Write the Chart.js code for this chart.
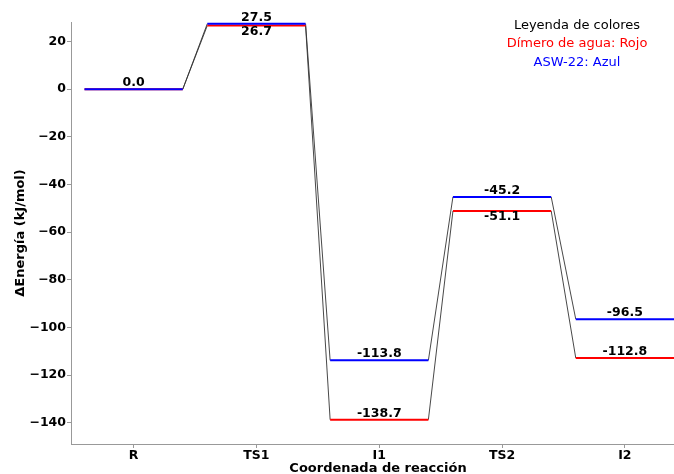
<!DOCTYPE html>
<html>
<head>
<meta charset="utf-8">
<script src="https://cdn.jsdelivr.net/npm/chart.js@4"></script>
<style>
  html, body { margin: 0; padding: 0; background: #ffffff; }
  #wrap { width: 674px; height: 474px; }
</style>
</head>
<body>
<div id="wrap"><canvas id="c" width="674" height="474"></canvas></div>
<script>
// Reaction coordinate stages
const stages = ['R', 'TS1', 'I1', 'TS2', 'I2'];
// Relative energies (kJ/mol)
const dimeroAgua = [0.0, 26.7, -138.7, -51.1, -112.8];
const asw22 = [0.0, 27.5, -113.8, -45.2, -96.5];
// Y axis tick values
const yTicks = [-140, -120, -100, -80, -60, -40, -20, 0, 20];
// Legend lines
const legendLines = [
  { text: 'Leyenda de colores', color: '#000000' },
  { text: 'Dímero de agua: Rojo', color: '#ff0000' },
  { text: 'ASW-22: Azul', color: '#0000ff' }
];
const xTitle = 'Coordenada de reacción';

const HALF = 0.4; // half-width of each energy level

function levelPoints(vals) {
  const pts = [];
  vals.forEach((v, i) => {
    pts.push({ x: i - HALF, y: v }, { x: i + HALF, y: v }, { x: i + 0.5, y: null });
  });
  return pts;
}
function connectorPoints(vals) {
  const pts = [];
  for (let i = 0; i < vals.length - 1; i++) {
    pts.push({ x: i + HALF, y: vals[i] }, { x: i + 1 - HALF, y: vals[i + 1] }, { x: i + 0.5, y: null });
  }
  return pts;
}

const FONT = 'DejaVu Sans';

// Energy values written next to each level, the colour key and the x title
const annotate = {
  id: 'annotate',
  afterDatasetsDraw(chart) {
    const ctx = chart.ctx;
    const xs = chart.scales.x, ys = chart.scales.y;
    ctx.save();
    ctx.font = 'bold 12.5px "' + FONT + '"';
    ctx.fillStyle = '#000';
    ctx.textAlign = 'center';
    stages.forEach((s, i) => {
      const px = xs.getPixelForValue(i);
      const b = asw22[i], r = dimeroAgua[i];
      // blue value above its level
      ctx.textBaseline = 'bottom';
      ctx.fillText(b.toFixed(1), px, ys.getPixelForValue(b));
      if (b === r) return;
      if (Math.abs(b - r) < 10) {
        ctx.textBaseline = 'top';
        ctx.fillText(r.toFixed(1), px, ys.getPixelForValue(r));
      } else {
        ctx.textBaseline = 'bottom';
        ctx.fillText(r.toFixed(1), px, ys.getPixelForValue(r));
      }
    });
    // x axis title, centred on the full axes box
    ctx.font = 'bold 13px "' + FONT + '"';
    ctx.textBaseline = 'middle';
    ctx.fillText(xTitle, 378, 468.5);
    // colour key
    ctx.font = '13px "' + FONT + '"';
    legendLines.forEach((l, k) => {
      ctx.fillStyle = l.color;
      ctx.fillText(l.text, 577, 25.5 + k * 18.6);
    });
    ctx.restore();
  }
};

new Chart(document.getElementById('c'), {
  type: 'line',
  data: {
    datasets: [
      { label: 'ASW-22', data: levelPoints(asw22), borderColor: '#0000ff', borderWidth: 2, order: 0 },
      { label: 'Dímero de agua', data: levelPoints(dimeroAgua), borderColor: '#ff0000', borderWidth: 2, order: 1 },
      { data: connectorPoints(asw22), borderColor: '#333333', borderWidth: 0.9, order: 2 },
      { data: connectorPoints(dimeroAgua), borderColor: '#333333', borderWidth: 0.9, order: 3 }
    ]
  },
  options: {
    responsive: false,
    animation: false,
    spanGaps: false,
    elements: { point: { radius: 0 }, line: { tension: 0, borderCapStyle: 'butt' } },
    layout: { padding: { top: 22, right: 0, left: 0, bottom: 0 } },
    plugins: { legend: { display: false }, tooltip: { enabled: false } },
    scales: {
      x: {
        type: 'linear',
        min: -0.51,
        max: 4.4,
        afterBuildTicks: (sc) => { sc.ticks = stages.map((s, i) => ({ value: i })); },
        afterFit: (sc) => { sc.height = 30; },
        ticks: {
          callback: (v) => stages[v],
          font: { family: FONT, size: 12.5, weight: 'bold' },
          color: '#000',
          padding: 0,
          maxRotation: 0,
          autoSkip: false
        },
        grid: { drawOnChartArea: false, drawTicks: true, tickLength: 4, color: '#999999' },
        border: { color: '#999999', width: 1 },
        title: { display: false }
      },
      y: {
        type: 'linear',
        min: -148.9,
        max: 28.2,
        afterBuildTicks: (sc) => { sc.ticks = yTicks.map(v => ({ value: v })); },
        afterFit: (sc) => { sc.width = 71; },
        ticks: {
          callback: (v) => String(v).replace('-', '\u2212'),
          font: { family: FONT, size: 12.5, weight: 'bold' },
          color: '#000',
          padding: 1
        },
        grid: { drawOnChartArea: false, drawTicks: true, tickLength: 4, color: '#999999' },
        border: { color: '#999999', width: 1 },
        title: {
          display: true,
          text: 'ΔEnergía (kJ/mol)',
          font: { family: FONT, size: 13, weight: 'bold' },
          color: '#000',
          padding: { top: 13, bottom: 0 }
        }
      }
    }
  },
  plugins: [annotate]
});
</script>
</body>
</html>
